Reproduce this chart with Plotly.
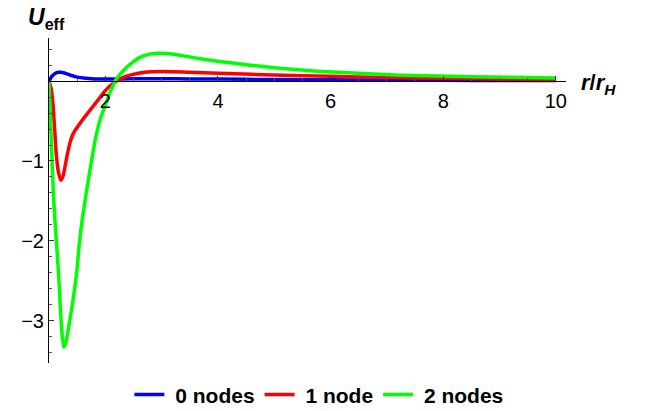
import plotly.graph_objects as go

# ---- data ----
x_blue = [1.0, 1.04, 1.08, 1.12, 1.16, 1.21, 1.26, 1.32, 1.4, 1.5, 1.65, 1.8, 2.0, 2.3, 2.6, 3.0, 3.5, 4.0, 5.0, 6.0, 7.0, 8.0, 9.0, 10.0]
y_blue = [0.0, 0.05, 0.08, 0.10, 0.11, 0.112, 0.105, 0.09, 0.07, 0.05, 0.035, 0.028, 0.025, 0.027, 0.03, 0.03, 0.027, 0.025, 0.02, 0.016, 0.012, 0.01, 0.008, 0.007]

x_red = [1.0, 1.04, 1.07, 1.1, 1.13, 1.17, 1.21, 1.25, 1.29, 1.33, 1.37, 1.41, 1.46, 1.52, 1.6, 1.7, 1.8, 1.91, 2.0, 2.09, 2.2, 2.3, 2.44, 2.7, 3.0, 3.5, 4.0, 4.6, 5.0, 6.0, 7.0, 8.0, 9.0, 10.0]
y_red = [0.0, -0.1, -0.28, -0.6, -0.92, -1.15, -1.24, -1.19, -1.05, -0.9, -0.78, -0.69, -0.62, -0.56, -0.48, -0.39, -0.3, -0.2, -0.12, -0.055, 0.0, 0.04, 0.075, 0.11, 0.12, 0.112, 0.1, 0.085, 0.076, 0.06, 0.046, 0.035, 0.028, 0.022]

x_green = [1.0, 1.02, 1.04, 1.08, 1.13, 1.17, 1.2, 1.23, 1.26, 1.29, 1.32, 1.41, 1.49, 1.545, 1.61, 1.68, 1.75, 1.82, 1.9, 2.0, 2.09, 2.18, 2.28, 2.39, 2.5, 2.62, 2.76, 2.92, 3.1, 3.4, 3.69, 4.1, 4.57, 5.1, 5.76, 6.5, 7.24, 8.5, 10.0]
y_green = [0.0, -0.35, -0.74, -1.45, -2.0, -2.41, -2.82, -3.15, -3.33, -3.3, -3.2, -2.82, -2.41, -1.99, -1.64, -1.32, -1.02, -0.74, -0.5, -0.3, -0.13, 0.01, 0.1, 0.18, 0.245, 0.30, 0.335, 0.35, 0.345, 0.315, 0.28, 0.24, 0.20, 0.16, 0.125, 0.097, 0.075, 0.055, 0.04]

series_names = ["0 nodes", "1 node", "2 nodes"]
series_colors = ["#0000ff", "#ff0000", "#00ff00"]

x_tickvals = [2, 4, 6, 8, 10]
x_ticktext = ["2", "4", "6", "8", "10"]
x_minor = [1.5 + 0.5 * i for i in range(18) if (1.5 + 0.5 * i) not in x_tickvals]
y_tickvals = [-3, -2, -1]
y_ticktext = ["\u22123", "\u22122", "\u22121"]
y_minor = [round(-3.4 + 0.2 * i, 2) for i in range(22) if round(-3.4 + 0.2 * i, 2) not in (-3, -2, -1, 0)]

x_range = [1.0, 10.18]
y_range = [-3.53, 0.54]

FONT = "Liberation Sans, Arial, sans-serif"

fig = go.Figure()
for xs, ys, name, col in zip([x_blue, x_red, x_green], [y_blue, y_red, y_green], series_names, series_colors):
    fig.add_trace(go.Scatter(x=xs, y=ys, mode="lines", name="\u00a0" + name,
                             line=dict(color=col, width=3.5, shape="spline", smoothing=0.5)))

xpos = (0 - y_range[0]) / (y_range[1] - y_range[0])

# page has an 8px body margin: figure is 646x403 so it fills the 654x411 window
fig.update_layout(
    width=646, height=403,
    margin=dict(l=41, r=88, t=30, b=48, autoexpand=False),
    paper_bgcolor="white", plot_bgcolor="white",
    font=dict(family=FONT, size=20, color="black"),
    showlegend=True,
    legend=dict(orientation="h", x=0.522, xanchor="center", y=-0.098, yanchor="middle",
                font=dict(family=FONT, size=21, color="black", weight="bold"),
                itemwidth=30, tracegroupgap=0),
    xaxis=dict(range=x_range, anchor="free", position=xpos, showgrid=False, zeroline=False,
               automargin=False,
               showline=True, linecolor="black", linewidth=1,
               tickmode="array", tickvals=x_tickvals, ticktext=x_ticktext,
               ticks="inside", ticklen=5, tickcolor="#333", tickwidth=1,
               minor=dict(tickmode="array", tickvals=x_minor, ticks="inside", ticklen=3,
                          tickcolor="#555", tickwidth=1, showgrid=False),
               tickfont=dict(size=20), ticklabelstandoff=2),
    yaxis=dict(range=y_range, showgrid=False, zeroline=False, automargin=False,
               showline=True, linecolor="black", linewidth=1,
               tickmode="array", tickvals=y_tickvals, ticktext=y_ticktext,
               ticks="inside", ticklen=5, tickcolor="#333", tickwidth=1,
               minor=dict(tickmode="array", tickvals=y_minor, ticks="inside", ticklen=3,
                          tickcolor="#555", tickwidth=1, showgrid=False),
               tickfont=dict(size=20), ticklabelstandoff=0),
    annotations=[
        dict(text="<b><i>U</i><sub>eff</sub></b>", xref="paper", yref="paper",
             x=(26 - 49) / 517, y=(363 - 18) / 325, xanchor="left", yanchor="middle",
             showarrow=False, font=dict(family=FONT, size=23, color="black")),
        dict(text="<b><i>r</i>/<i>r</i><sub><i>H</i></sub></b>", xref="paper", yref="paper",
             x=(579 - 49) / 517, y=(363 - 84) / 325, xanchor="left", yanchor="middle",
             showarrow=False, font=dict(family=FONT, size=22, color="black")),
    ],
)

fig.write_html("out.html")
